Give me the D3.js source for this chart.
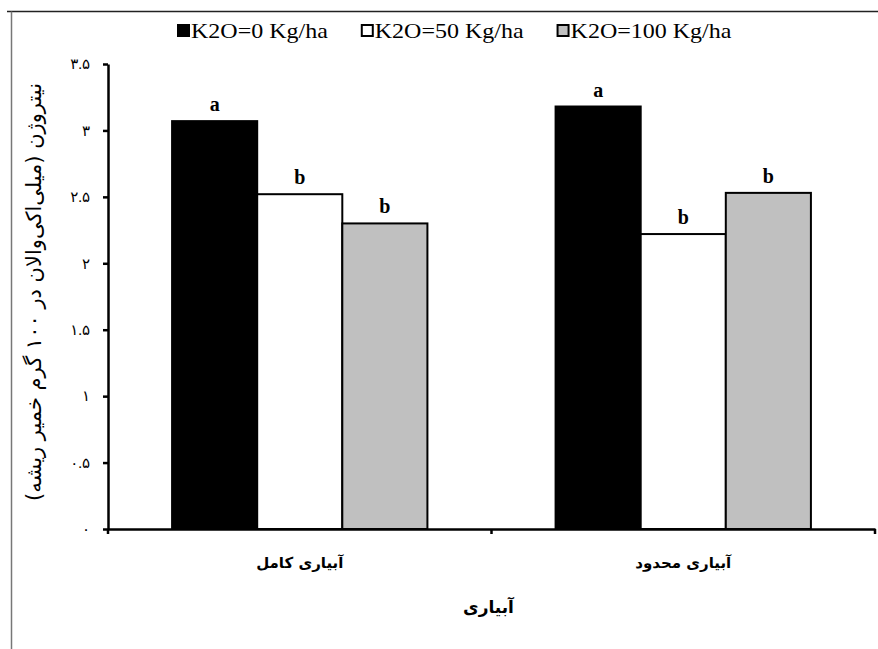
<!DOCTYPE html>
<html>
<head>
<meta charset="utf-8">
<script src="https://cdn.jsdelivr.net/npm/d3@7"></script>
<style>
  body { margin: 0; background: #fff; }
  svg { display: block; }
  .tick-lbl { font-family: "Liberation Serif", "DejaVu Sans", serif; font-size: 15px; }
  .fa { font-family: "DejaVu Sans", sans-serif; }
</style>
</head>
<body>
<svg id="chart" width="878" height="649"></svg>
<script>
// categories and series
const categories = ['آبیاری کامل', 'آبیاری محدود'];
const seriesNames = ['K2O=0 Kg/ha', 'K2O=50 Kg/ha', 'K2O=100 Kg/ha'];
const seriesColors = ['#000000', '#ffffff', '#c0c0c0'];

// values per series (one per category)
const k0Values = [3.07, 3.18];
const k50Values = [2.52, 2.22];
const k100Values = [2.30, 2.53];

// significance letters
const k0Letters = ['a', 'a'];
const k50Letters = ['b', 'b'];
const k100Letters = ['b', 'b'];

const yTickValues = [0, 0.5, 1, 1.5, 2, 2.5, 3, 3.5];
const yTickLabels = ['۰', '۰.۵', '۱', '۱.۵', '۲', '۲.۵', '۳', '۳.۵'];

const yTitle = 'نیتروژن (میلی‌اکی‌والان در ۱۰۰ گرم خمیر ریشه)';
const xTitle = 'آبیاری';

const allValues = [k0Values, k50Values, k100Values];
const allLetters = [k0Letters, k50Letters, k100Letters];

const rows = [];
categories.forEach((c, ci) => {
  seriesNames.forEach((s, si) => {
    rows.push({cat: c, series: s, value: allValues[si][ci], letter: allLetters[si][ci], color: seriesColors[si]});
  });
});

const svg = d3.select('#chart');
const plotLeft = 108, plotRight = 875, plotTop = 64, plotBottom = 529;

// outer frame
svg.append('path')
   .attr('d', 'M7,11.5 H878')
   .attr('stroke', '#222')
   .attr('stroke-width', 1.5)
   .attr('fill', 'none');
svg.append('path')
   .attr('d', 'M11.5,11.5 V649')
   .attr('stroke', '#777')
   .attr('stroke-width', 1.5)
   .attr('fill', 'none');

let xScale = d3.scaleBand().domain(categories).range([plotLeft, plotRight]).padding(0);
let xInner = d3.scaleBand().domain(seriesNames).range([0, xScale.bandwidth()]).paddingInner(0).paddingOuter(0.753);
let yScale = d3.scaleLinear().domain([0, 3.5]).range([plotBottom, plotTop]);

// bars
const g = svg.append('g');
g.selectAll('rect.bar')
 .data(rows)
 .join('rect')
 .attr('class', 'bar')
 .attr('x', d => xScale(d.cat) + xInner(d.series))
 .attr('y', d => yScale(d.value))
 .attr('width', xInner.bandwidth())
 .attr('height', d => yScale(0) - yScale(d.value))
 .attr('fill', d => d.color)
 .attr('stroke', '#000')
 .attr('stroke-width', 2);

// letters above bars
g.selectAll('text.letter')
 .data(rows)
 .join('text')
 .attr('class', 'letter')
 .attr('x', d => xScale(d.cat) + xInner(d.series) + xInner.bandwidth() / 2)
 .attr('y', d => yScale(d.value) - 10)
 .attr('text-anchor', 'middle')
 .style('font-family', '"Liberation Serif", serif')
 .style('font-weight', 'bold')
 .style('font-size', '20px')
 .text(d => d.letter);

// y axis
let yAxis = d3.axisLeft(yScale)
              .tickValues(yTickValues)
              .tickFormat((d, i) => yTickLabels[i])
              .tickSizeInner(5)
              .tickSizeOuter(0)
              .tickPadding(13);
const yG = svg.append('g')
   .attr('transform', `translate(${plotLeft}, 0)`)
   .call(yAxis);
yG.attr('font-size', null).attr('font-family', null);
yG.select('.domain').attr('stroke-width', 2.5);
yG.selectAll('.tick line').attr('stroke-width', 2.5);
yG.selectAll('.tick text').attr('class', 'tick-lbl');

// x axis
let xAxis = d3.axisBottom(xScale).tickSize(0).tickFormat('');
const xG = svg.append('g')
   .attr('transform', `translate(0, ${plotBottom})`)
   .call(xAxis);
xG.select('.domain').attr('stroke-width', 2.5);
xG.selectAll('.tick').remove();
// tick marks at category boundaries
const boundaries = [plotLeft, xScale(categories[1]), plotRight];
xG.selectAll('line.sep')
  .data(boundaries)
  .join('line')
  .attr('class', 'sep')
  .attr('x1', d => d).attr('x2', d => d)
  .attr('y1', 0).attr('y2', 5)
  .attr('stroke', '#000')
  .attr('stroke-width', 2.5);

// category labels
svg.selectAll('text.cat')
   .data(categories)
   .join('text')
   .attr('class', 'cat fa')
   .attr('x', d => xScale(d) + xScale.bandwidth() / 2)
   .attr('y', 568)
   .attr('text-anchor', 'middle')
   .attr('direction', 'rtl')
   .style('font-weight', 'bold')
   .style('font-size', '15px')
   .text(d => d);

// x title
svg.append('text')
   .attr('class', 'fa')
   .attr('x', (plotLeft + plotRight) / 2 - 3)
   .attr('y', 613)
   .attr('text-anchor', 'middle')
   .attr('direction', 'rtl')
   .style('font-weight', 'bold')
   .style('font-size', '17px')
   .text(xTitle);

// y title
svg.append('g')
   .attr('transform', `translate(41, 292) rotate(-90)`)
   .append('text')
   .attr('class', 'fa')
   .attr('text-anchor', 'middle')
   .attr('direction', 'rtl')
   .style('font-size', '21px')
   .text(yTitle);

// legend (text is drawn slightly stretched, like the source)
const legend = svg.append('g').attr('transform', 'translate(178, 38)');
const stretch = 1.2, itemGap = 34;
let cursor = 0;
seriesNames.forEach((s, i) => {
  const item = legend.append('g').attr('transform', `translate(${cursor}, 0)`);
  item.append('rect')
      .attr('x', 0).attr('y', -13)
      .attr('width', 11).attr('height', 11)
      .attr('fill', seriesColors[i])
      .attr('stroke', '#000')
      .attr('stroke-width', 2);
  const t = item.append('text')
      .attr('transform', `translate(13, 0) scale(${stretch}, 1)`)
      .style('font-family', '"Liberation Serif", serif')
      .style('font-size', '20px')
      .text(s);
  cursor += 13 + t.node().getComputedTextLength() * stretch + itemGap;
});
</script>
</body>
</html>
